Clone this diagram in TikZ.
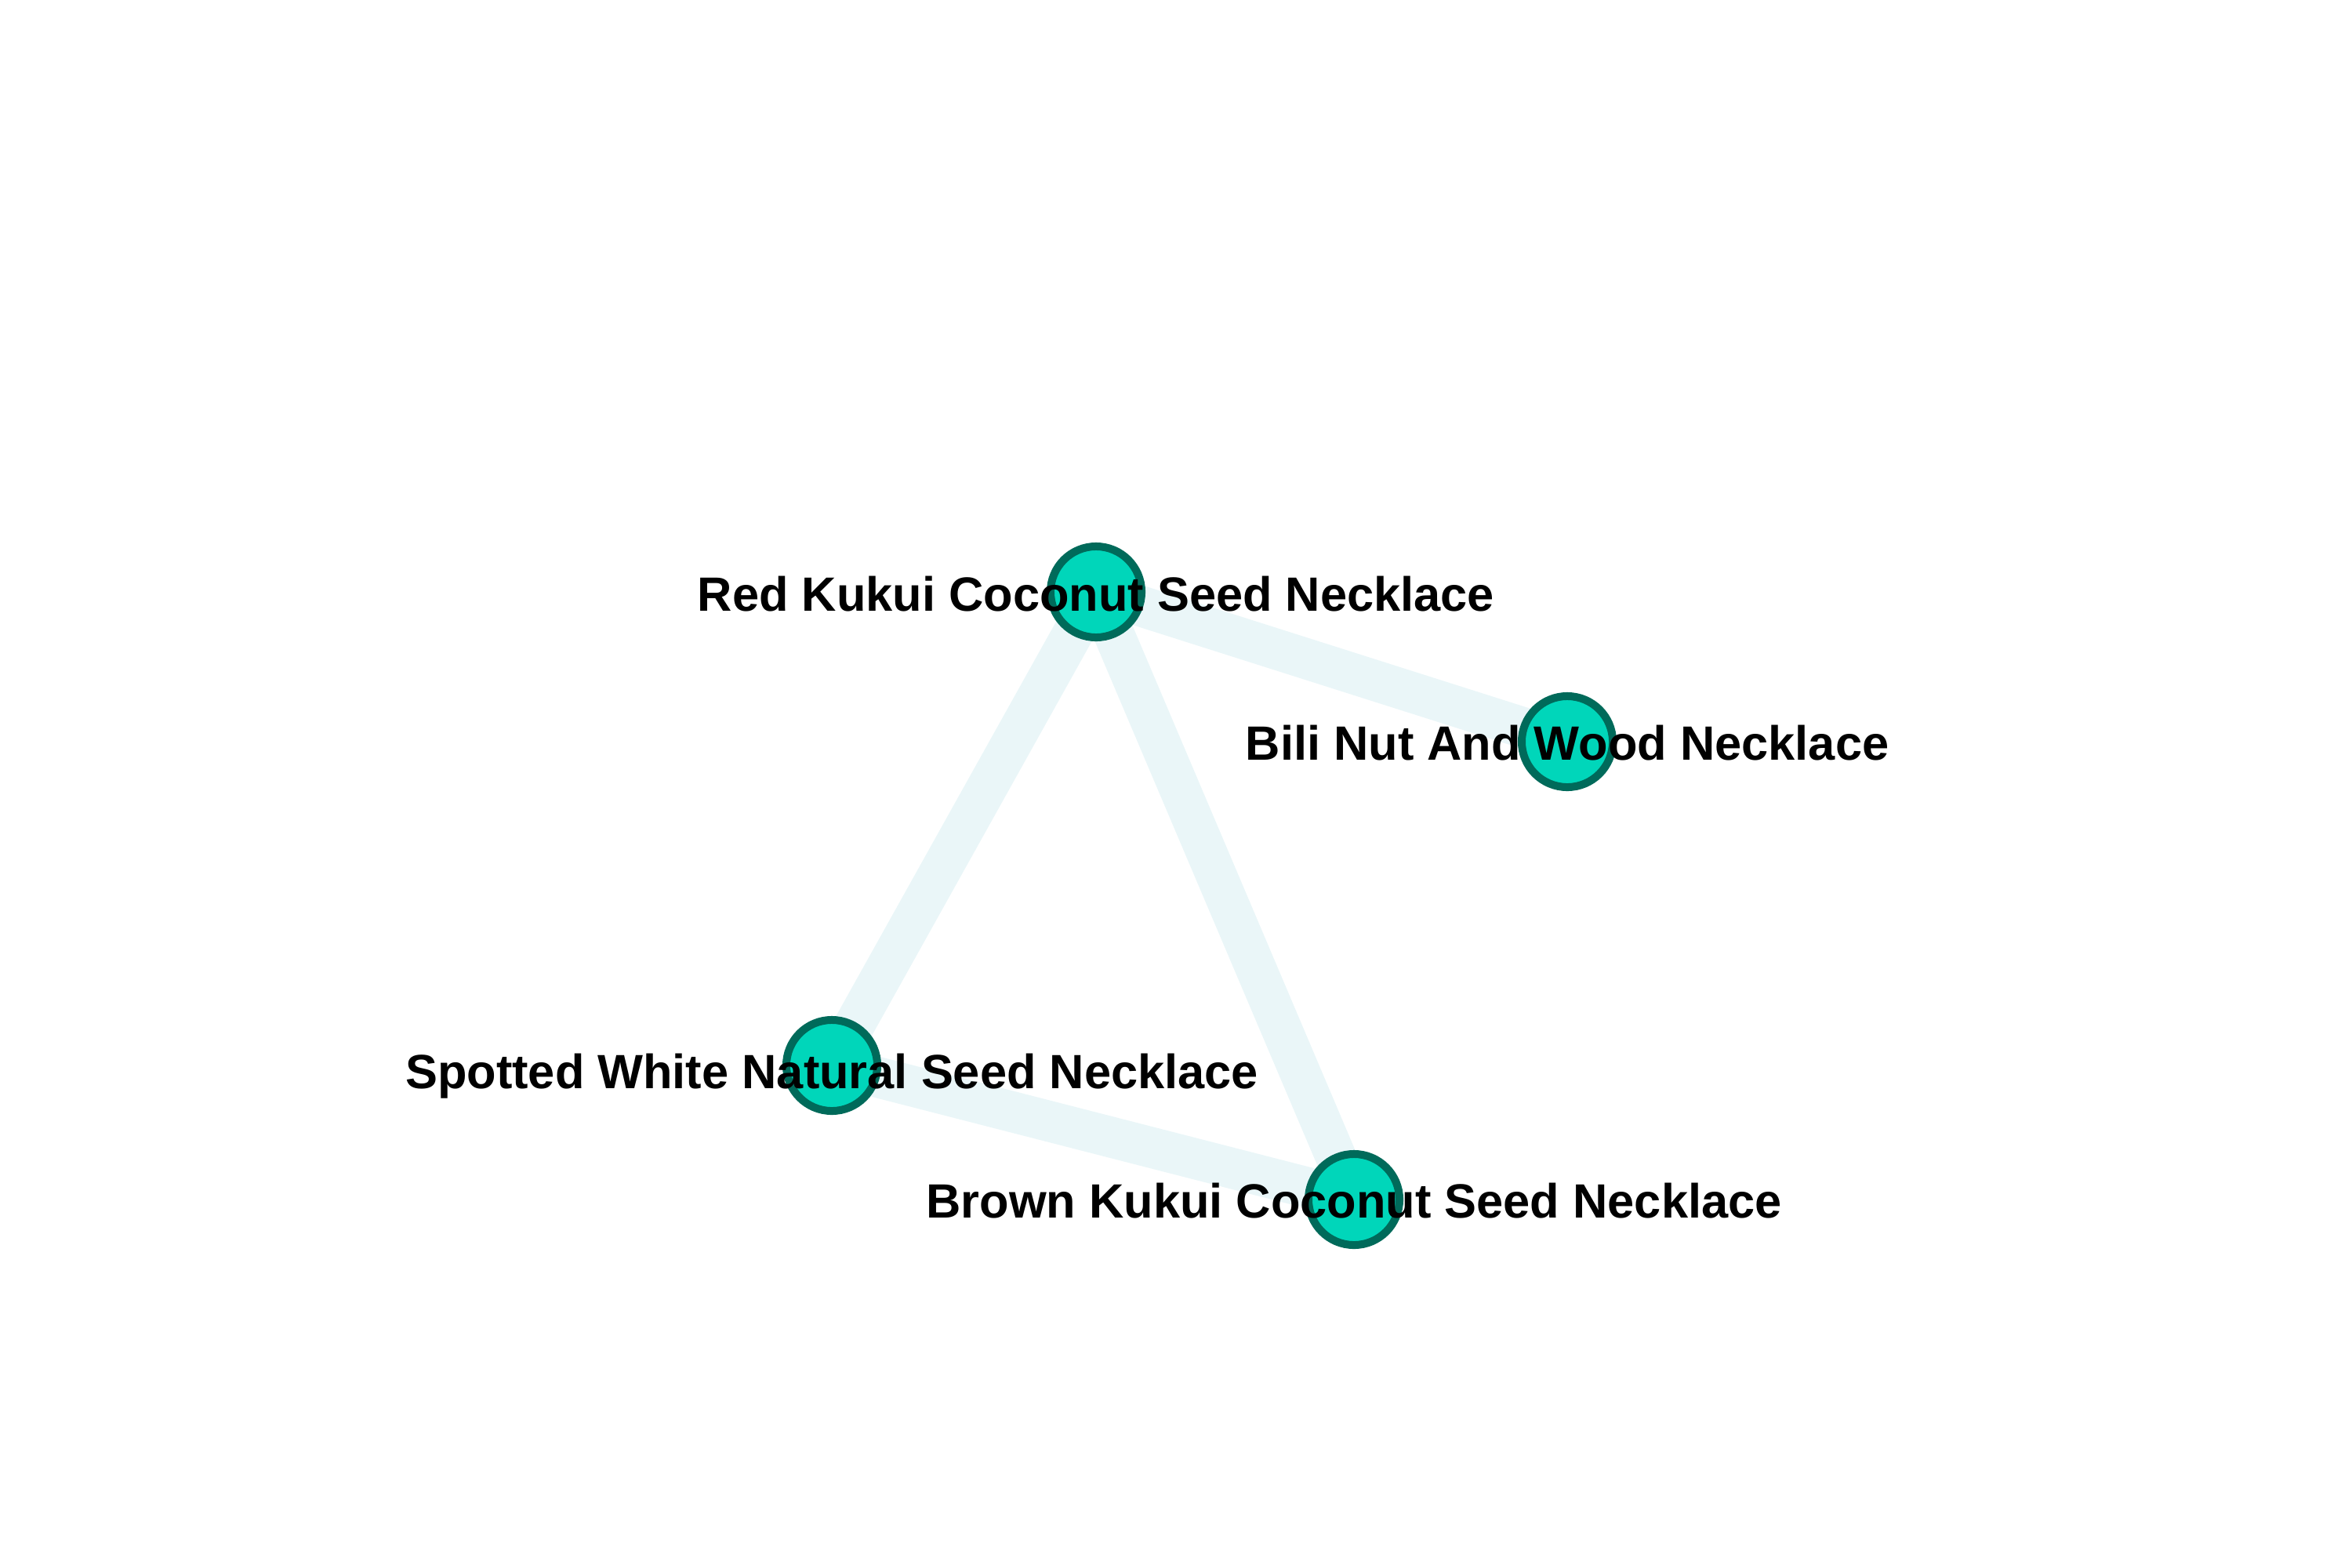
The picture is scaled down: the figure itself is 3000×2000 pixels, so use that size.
\documentclass[tikz,border=0pt]{standalone}
\usepackage{fontspec}
\setmainfont{Liberation Sans}
\usetikzlibrary{backgrounds}
\definecolor{edgecyan}{RGB}{234,246,248}
\definecolor{seedfill}{RGB}{0,214,186}
\definecolor{seedline}{RGB}{0,106,90}
\tikzset{
  seed/.style={circle, fill=seedfill, draw=seedline, line width=0.1cm, minimum size=1.16cm, inner sep=0pt},
  tie/.style={edgecyan, line width=0.52cm},
  seedlabel/.style={font=\fontsize{17.45}{20}\selectfont\bfseries, text=black, inner sep=0pt, text height=0.716em, text depth=0pt}
}
\begin{document}
\begin{tikzpicture}[x=0.01cm, y=-0.01cm]
        \useasboundingbox (0,0) rectangle (3000,2000);

        % Place the necklaces
        \node[seed] (red) at (1398,755) {};
        \node[seed] (bili) at (1999,946) {};
        \node[seed] (spot) at (1061,1359) {};
        \node[seed] (brown) at (1727,1530) {};

        % Draw the links behind them
        \begin{pgfonlayer}{background}
        \foreach \a/\b in {red/bili, red/spot, red/brown, spot/brown} {
            \draw[tie] (\a.center) -- (\b.center);
        };
        \end{pgfonlayer}

        % Labels
        \foreach \n/\dy/\label in {red/12/Red Kukui Coconut Seed Necklace,
                                   bili/11/Bili Nut And Wood Necklace,
                                   spot/17/Spotted White Natural Seed Necklace,
                                   brown/11/Brown Kukui Coconut Seed Necklace} {
            \node[seedlabel] (\n-text) at ([yshift=-\dy*0.01cm]\n.center) {\label};
        };
    \end{tikzpicture}
\end{document}
